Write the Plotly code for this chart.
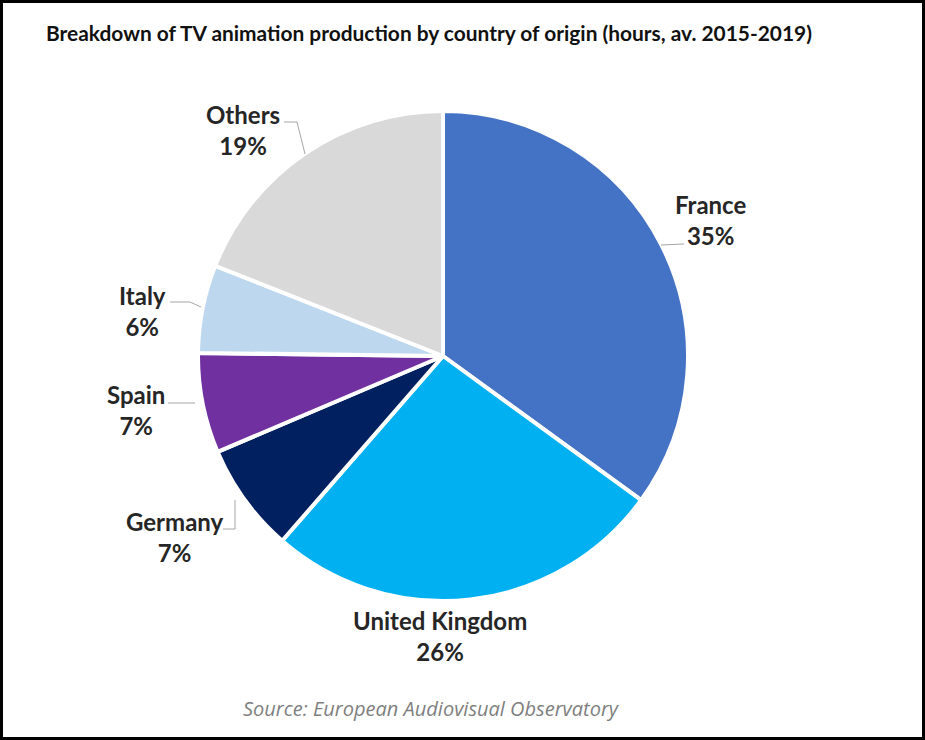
import plotly.graph_objects as go

countries = ["France", "United Kingdom", "Germany", "Spain", "Italy", "Others"]
shares = [35.0, 26.4, 7.2, 6.6, 5.8, 19.0]
shown_pct = [35, 26, 7, 7, 6, 19]
colors = ["#4472C4", "#00B0F0", "#002060", "#7030A0", "#BDD7EE", "#D9D9D9"]

W, H = 925, 740

# label centres in pixels, measured on the picture
label_xy = [(710, 220), (440, 636), (175, 537), (136, 410), (142, 311), (243, 130)]

# leader lines, pixels
leaders = [
    [(661, 245), (684, 244)],
    [(223, 529), (235, 529), (235, 500)],
    [(168, 403), (195, 403)],
    [(170, 302), (190, 302), (201, 307)],
    [(284, 122), (297, 122), (305, 154)],
]

fig = go.Figure()
fig.add_trace(go.Pie(
    labels=countries,
    values=shares,
    sort=False,
    direction="clockwise",
    rotation=0,
    textinfo="none",
    hoverinfo="label+percent",
    marker=dict(colors=colors, line=dict(color="white", width=4)),
    domain=dict(x=[198 / W, 688 / W], y=[1 - 601 / H, 1 - 111 / H]),
    showlegend=False,
))


def px(x):
    return x / W


def py(y):
    return 1 - y / H


annots = []
for name, pct, (lx, ly) in zip(countries, shown_pct, label_xy):
    annots.append(dict(
        x=px(lx), y=py(ly), xref="paper", yref="paper",
        text=f"<b>{name}</b><br><b>{pct}%</b>",
        showarrow=False, xanchor="center", yanchor="middle", align="center",
        font=dict(family="Lato", size=24, color="#262626"),
    ))

annots.append(dict(
    x=px(44), y=py(32), xref="paper", yref="paper",
    text="<b>Breakdown of TV animation production by country of origin (hours, av. 2015-2019)</b>",
    showarrow=False, xanchor="left", yanchor="middle",
    font=dict(family="Lato", size=20.9, color="#111111"),
))
annots.append(dict(
    x=px(431), y=py(708), xref="paper", yref="paper",
    text="<i>Source: European Audiovisual Observatory</i>",
    showarrow=False, xanchor="center", yanchor="middle",
    font=dict(family="Open Sans", size=20, color="#7F7F7F"),
))

shapes = []
for pts in leaders:
    path = "M " + " L ".join(f"{px(x)} {py(y)}" for x, y in pts)
    shapes.append(dict(type="path", xref="paper", yref="paper", path=path,
                       line=dict(color="#A6A6A6", width=1)))

# black frame around the picture
shapes.append(dict(type="rect", xref="paper", yref="paper", x0=0, x1=1, y0=0, y1=1,
                   line=dict(color="black", width=6)))

fig.update_layout(
    width=W, height=H,
    margin=dict(l=0, r=0, t=0, b=0),
    paper_bgcolor="white",
    annotations=annots,
    shapes=shapes,
)

# page has a default 8px body margin, drop it so pixels line up
fig.write_html("out.html", config={"displayModeBar": False},
               post_script="document.body.style.margin='0';document.body.style.overflow='hidden';")
